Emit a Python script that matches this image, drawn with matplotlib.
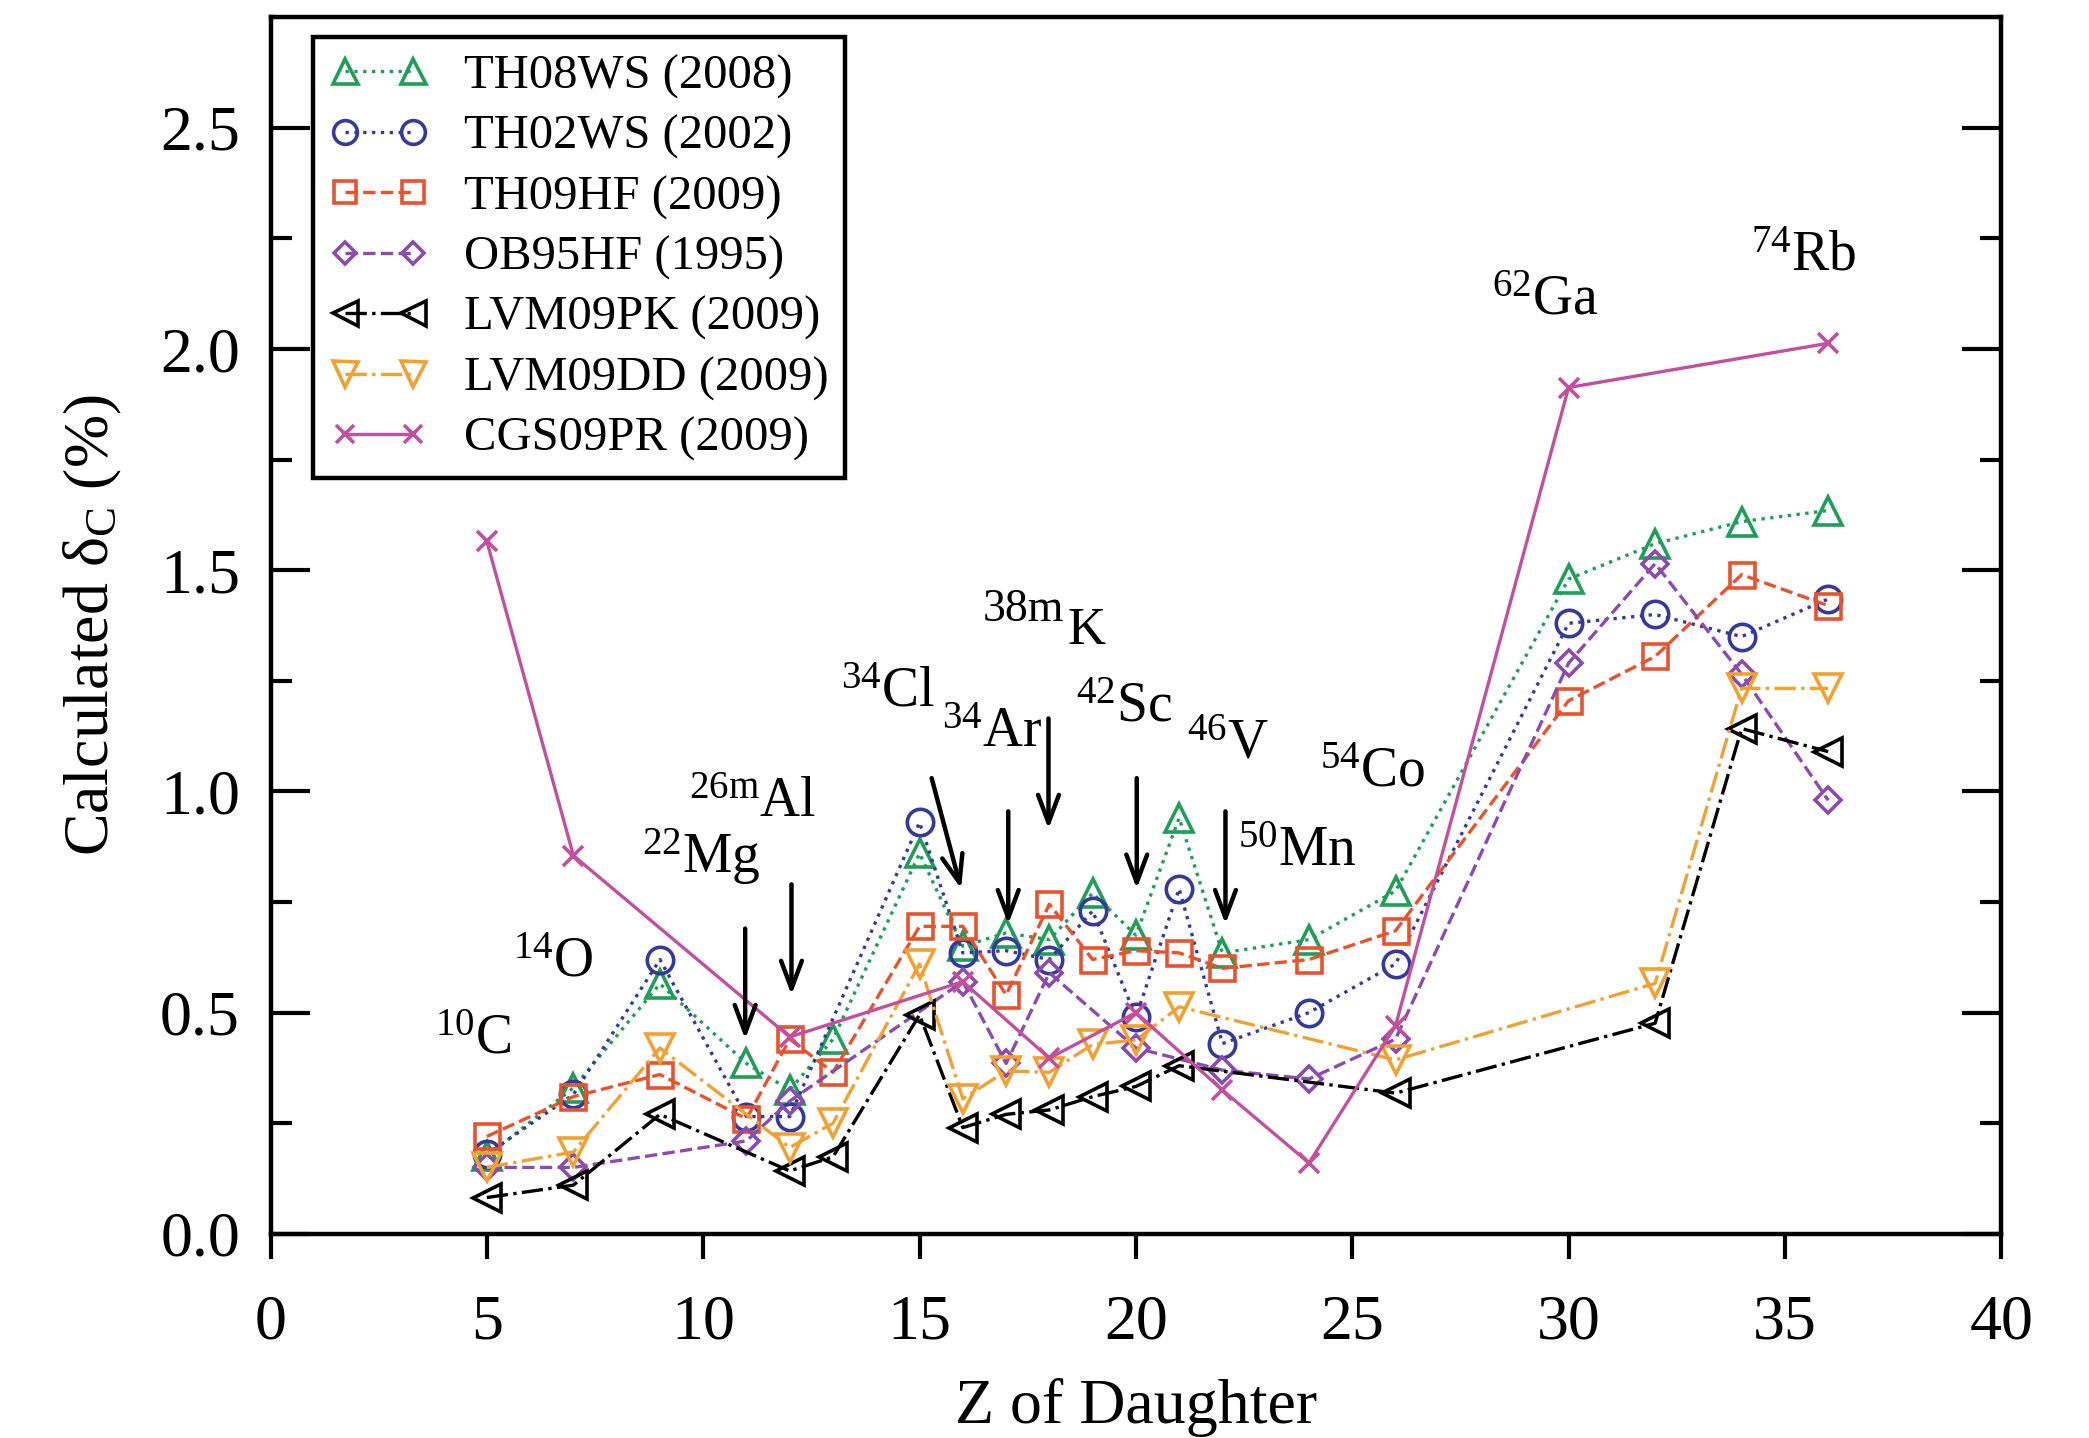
import numpy as np
import matplotlib
matplotlib.use('Agg')
import matplotlib.pyplot as plt

plt.rcParams['font.family'] = ['Liberation Serif', 'DejaVu Serif']
plt.rcParams['mathtext.fontset'] = 'custom'
plt.rcParams['mathtext.rm'] = 'Liberation Serif'
plt.rcParams['mathtext.it'] = 'Liberation Serif:italic'
plt.rcParams['mathtext.bf'] = 'Liberation Serif:bold'

# Datos (Z del nucleo hijo, delta_C en %)
z_th08 = [5, 7, 9, 11, 12, 13, 15, 16, 17, 18, 19, 20, 21, 22, 24, 26, 30, 32, 34, 36]
d_th08 = [0.175, 0.33, 0.565, 0.385, 0.325, 0.44, 0.86, 0.65, 0.68, 0.665, 0.77, 0.675,
          0.94, 0.635, 0.665, 0.775, 1.48, 1.56, 1.61, 1.635]

z_th02 = [5, 7, 9, 11, 12, 15, 16, 17, 18, 19, 20, 21, 22, 24, 26, 30, 32, 34, 36]
d_th02 = [0.18, 0.315, 0.62, 0.265, 0.265, 0.93, 0.635, 0.64, 0.62, 0.73, 0.49, 0.78,
          0.43, 0.50, 0.61, 1.38, 1.40, 1.35, 1.435]

z_th09 = [5, 7, 9, 11, 12, 13, 15, 16, 17, 18, 19, 20, 21, 22, 24, 26, 30, 32, 34, 36]
d_th09 = [0.22, 0.31, 0.36, 0.26, 0.44, 0.365, 0.695, 0.695, 0.54, 0.745, 0.62, 0.64,
          0.635, 0.60, 0.62, 0.685, 1.205, 1.305, 1.49, 1.42]

z_ob95 = [5, 7, 11, 12, 16, 17, 18, 20, 22, 24, 26, 30, 32, 34, 36]
d_ob95 = [0.15, 0.15, 0.21, 0.30, 0.57, 0.385, 0.59, 0.42, 0.37, 0.35, 0.44, 1.29,
          1.515, 1.265, 0.98]

z_lvmpk = [5, 7, 9, 12, 13, 15, 16, 17, 18, 19, 20, 21, 26, 32, 34, 36]
d_lvmpk = [0.082, 0.11, 0.27, 0.142, 0.174, 0.495, 0.24, 0.27, 0.28, 0.31, 0.333, 0.38,
           0.318, 0.476, 1.142, 1.09]

z_lvmdd = [5, 7, 9, 12, 13, 15, 16, 17, 18, 19, 20, 21, 26, 32, 34, 36]
d_lvmdd = [0.15, 0.185, 0.42, 0.195, 0.25, 0.61, 0.305, 0.368, 0.365, 0.428, 0.438, 0.513,
           0.393, 0.566, 1.233, 1.233]

z_cgs = [5, 7, 12, 16, 18, 20, 22, 24, 26, 30, 36]
d_cgs = [1.565, 0.855, 0.445, 0.57, 0.397, 0.50, 0.325, 0.16, 0.47, 1.913, 2.013]

# Etiquetas de nucleos: (superindice, elemento, Z, delta)
nucleos = [('10', 'C', 4.68, 0.44), ('14', 'O', 6.53, 0.614), ('22', 'Mg', 9.95, 0.852),
           ('26m', 'Al', 11.15, 0.973), ('34', 'Cl', 14.26, 1.223), ('34', 'Ar', 16.69, 1.133),
           ('42', 'Sc', 19.74, 1.19), ('46', 'V', 22.14, 1.105), ('50', 'Mn', 23.74, 0.864),
           ('54', 'Co', 25.47, 1.042), ('62', 'Ga', 29.47, 2.11), ('74', 'Rb', 35.44, 2.21)]

# Flechas: (Z inicio, delta inicio, Z fin, delta fin)
flechas = [(10.97, 0.69, 10.97, 0.44), (12.04, 0.79, 12.04, 0.54), (15.28, 1.03, 15.96, 0.78),
           (17.05, 0.955, 17.05, 0.70), (17.98, 1.165, 17.98, 0.915), (20.02, 1.03, 20.02, 0.78),
           (22.07, 0.955, 22.07, 0.70)]

series = [
    (z_th08, d_th08, 'TH08WS (2008)', '#1e9e58', '^', ':', 20),
    (z_th02, d_th02, 'TH02WS (2002)', '#36399a', 'o', ':', 19),
    (z_th09, d_th09, 'TH09HF (2009)', '#e8522c', 's', '--', 18),
    (z_ob95, d_ob95, 'OB95HF (1995)', '#8a4cb0', 'D', '--', 13),
    (z_lvmpk, d_lvmpk, 'LVM09PK (2009)', 'black', '<', '-.', 20),
    (z_lvmdd, d_lvmdd, 'LVM09DD (2009)', '#f0a132', 'v', '-.', 20),
    (z_cgs, d_cgs, 'CGS09PR (2009)', '#c2509c', 'x', '-', 14),
]

fig = plt.figure(figsize=(20.89, 14.38), dpi=100)
ax = fig.add_axes([0.1295, 0.142, 0.8285, 0.846])

for z, d, lab, col, mk, ls, ms in series:
    ax.plot(z, d, linestyle=ls, color=col, marker=mk, markersize=ms,
            markerfacecolor='none', markeredgecolor=col, markeredgewidth=2.6,
            linewidth=2.4, label=lab)

for sup, el, x, y in nucleos:
    sup_txt = sup.replace('m', r'\mathrm{m}')
    ax.text(x, y, r'$^{%s}$%s' % (sup_txt, el), fontsize=40, ha='center', va='center')

# 38mK se dibuja aparte (K mas abajo)
ax.text(17.4, 1.41, '38m', fontsize=33, ha='center', va='center')
ax.text(18.85, 1.362, 'K', fontsize=38, ha='center', va='center')

for x0, y0, x1, y1 in flechas:
    ax.annotate('', xy=(x1, y1), xytext=(x0, y0),
                arrowprops=dict(arrowstyle='->,head_length=2.0,head_width=0.75',
                                lw=3.2, color='black', shrinkA=0, shrinkB=0,
                                mutation_scale=10))

ax.set_xlim(0, 40)
ax.set_ylim(0, 2.75)
ax.set_xticks(np.arange(0, 41, 5))
ax.set_yticks(np.arange(0, 2.51, 0.5))
ax.set_yticks(np.arange(0, 2.75, 0.25), minor=True)
ax.set_yticklabels(['%.1f' % v for v in np.arange(0, 2.51, 0.5)])

ax.tick_params(axis='x', direction='out', length=18, width=3, labelsize=46, pad=26)
ax.tick_params(axis='y', which='major', direction='in', length=28, width=3,
               labelsize=46, pad=22, right=True)
ax.tick_params(axis='y', which='minor', direction='in', length=15, width=3, right=True)
for s in ax.spines.values():
    s.set_linewidth(3.2)

ax.set_xlabel('Z of Daughter', fontsize=46, labelpad=18)
ax.set_ylabel(r'Calculated δ$_{\mathrm{C}}$ (%)', fontsize=46, labelpad=26)

leg = ax.legend(loc='upper left', bbox_to_anchor=(0.0246, 0.9836), borderaxespad=0,
                fontsize=35, numpoints=2, handlelength=2.0, handletextpad=0.75,
                labelspacing=0.33, borderpad=0.35, fancybox=False, framealpha=1,
                edgecolor='black')
leg.get_frame().set_linewidth(3.2)
for h in leg.legend_handles:
    h.set_markersize(h.get_markersize() * 0.9)

fig.savefig('out.png', dpi=100)
